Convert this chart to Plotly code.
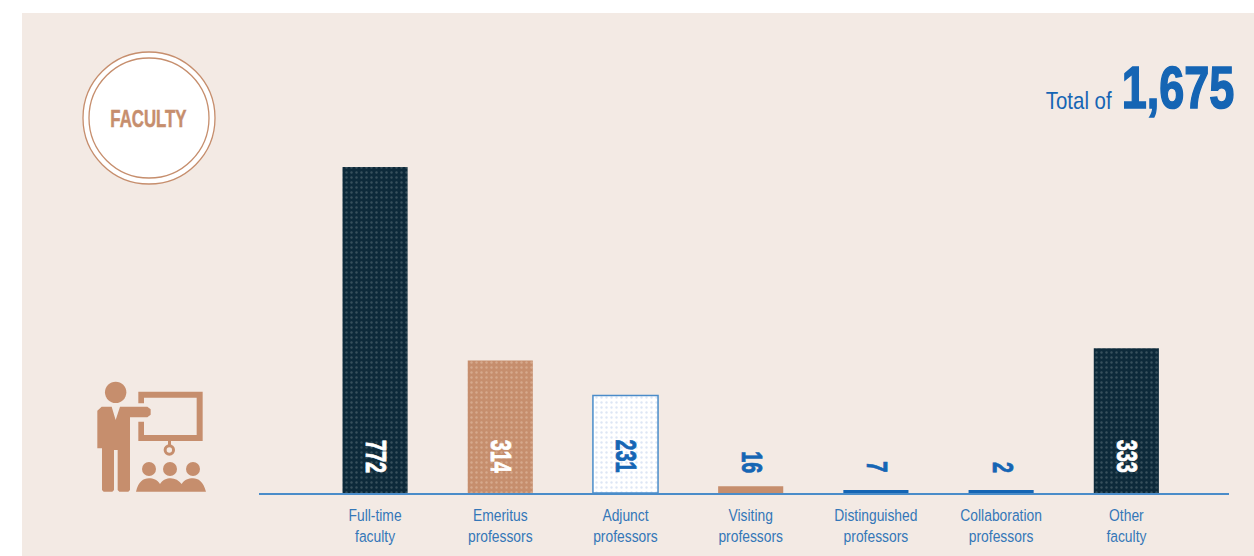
import json
import plotly.graph_objects as go

# Data
categories = ["Full-time<br>faculty", "Emeritus<br>professors", "Adjunct<br>professors",
              "Visiting<br>professors", "Distinguished<br>professors",
              "Collaboration<br>professors", "Other<br>faculty"]
value_labels = ["772", "314", "231", "16", "7", "2", "333"]
# Heights as drawn in the picture, on the same scale as the labels
drawn_heights = [772, 314, 231, 16, 7, 7, 343]
total_label = "1,675"

W, H = 1254, 556
ML, MR, MT, MB = 259, 25, 60, 63
PW, PH = W - ML - MR, H - MT - MB

BLUE = "#1565b4"
AXIS = "#4a8cc9"
TICK = "#3477b8"
BROWN = "#c68e6d"
DARK = "#0d2a3a"
PANEL = "#f3eae4"
FONT = "Liberation Sans, Arial, sans-serif"

bar_fill = [DARK, BROWN, "#ffffff", BROWN, BLUE, BLUE, DARK]
bar_line = [DARK, BROWN, AXIS, BROWN, BLUE, BLUE, DARK]
bar_line_w = [0, 0, 1.5, 0, 0, 0, 0]
bar_dots = ["#62767f", "#e3c4ae", "#bccde9", None, None, None, "#62767f"]
label_col = ["white", "white", BLUE, BLUE, BLUE, BLUE, "white"]


def px(x):
    return (x - ML) / PW


def py(y):
    return (H - MB - y) / PH


def path(cmds):
    """Build an SVG path in paper coordinates from page-pixel commands."""
    out = []
    for c in cmds:
        if isinstance(c, str):
            out.append(c)
        else:
            out.append(f"{px(c[0]):.5f},{py(c[1]):.5f}")
    return " ".join(out)


def z(x, y):
    """Icon coordinates, measured on a 3x crop with origin (70, 360)."""
    return (70 + x / 3, 360 + y / 3)


def circle(cx, cy, r, fill, line=None, lw=0):
    return dict(type="circle", xref="paper", yref="paper", layer="below",
                x0=px(cx - r), x1=px(cx + r), y0=py(cy + r), y1=py(cy - r),
                fillcolor=fill, line=dict(color=line or fill, width=lw))


def poly(cmds, fill=BROWN):
    return dict(type="path", xref="paper", yref="paper", layer="below",
                path=path(cmds), fillcolor=fill, line=dict(width=0))


shapes = [
    dict(type="rect", xref="paper", yref="paper", layer="below",
         x0=px(22), x1=px(1254), y0=py(556), y1=py(13),
         fillcolor=PANEL, line=dict(width=0)),
    circle(149, 118, 66, "white", BROWN, 1.3),
    circle(149, 118, 60, "white", BROWN, 1.3),
    # presenter
    circle(*z(137, 97), 10.7, BROWN),
    poly(["M", z(95, 140), "L", z(125, 140), "L", z(137, 180), "L", z(150, 140),
          "L", z(232, 140), "L", z(242, 148), "L", z(242, 164), "L", z(232, 172),
          "L", z(180, 172), "L", z(180, 390), "L", z(175, 395), "L", z(148, 395),
          "L", z(143, 390), "L", z(143, 270), "L", z(132, 270), "L", z(132, 390),
          "L", z(127, 395), "L", z(101, 395), "L", z(96, 390), "L", z(96, 265),
          "L", z(82, 265), "L", z(82, 152), "Z"]),
    # board
    poly(["M", z(205, 130), "L", z(205, 95), "L", z(398, 95), "L", z(398, 243),
          "L", z(205, 243), "L", z(205, 185), "L", z(222, 185), "L", z(222, 225),
          "L", z(380, 225), "L", z(380, 113), "L", z(222, 113), "L", z(222, 130), "Z"]),
    poly(["M", z(294, 243), "L", z(303, 243), "L", z(303, 258), "L", z(294, 258), "Z"]),
    circle(*z(298, 270), 4.2, "rgba(0,0,0,0)", BROWN, 3),
    # audience
    circle(*z(237, 327), 7, BROWN),
    circle(*z(300, 327), 7, BROWN),
    circle(*z(369, 327), 7, BROWN),
    poly(["M", z(198, 395), "C", z(205, 365), z(220, 355), z(237, 355),
          "C", z(250, 355), z(262, 360), z(270, 372),
          "C", z(278, 360), z(290, 355), z(302, 355),
          "C", z(315, 355), z(327, 362), z(335, 372),
          "C", z(343, 360), z(355, 355), z(369, 355),
          "C", z(385, 355), z(400, 365), z(408, 395), "Z"]),
]

fig = go.Figure()
for cat, h, fill, ln, lw, dots in zip(categories, drawn_heights, bar_fill, bar_line,
                                      bar_line_w, bar_dots):
    marker = dict(color=fill, line=dict(color=ln, width=lw))
    if dots:
        marker["pattern"] = dict(shape=".", fgcolor=dots, size=5, solidity=0.18,
                                 fillmode="overlay")
    fig.add_trace(go.Bar(x=[cat], y=[h], width=0.52, marker=marker,
                         hoverinfo="skip", showlegend=False))

annotations = []
squeeze = []  # horizontal text squeeze for a condensed look: [factor, pivot, stroke]
for cat, lab, col in zip(categories, value_labels, label_col):
    annotations.append(dict(
        x=cat, y=0, xref="x", yref="y", text=f"<b>{lab}</b>", textangle=90,
        showarrow=False, xanchor="center", yanchor="bottom", yshift=18, xshift=2,
        font=dict(family=FONT, size=30, color=col),
    ))
    squeeze.append([0.66, "end", 0.8])

annotations += [
    dict(xref="paper", yref="paper", x=px(148), y=py(119), text="<b>FACULTY</b>",
         showarrow=False, xanchor="center", yanchor="middle",
         font=dict(family=FONT, size=24, color=BROWN)),
    dict(xref="paper", yref="paper", x=px(1079), y=py(100), text="Total of",
         showarrow=False, xanchor="center", yanchor="middle",
         font=dict(family=FONT, size=24, color=BLUE)),
    dict(xref="paper", yref="paper", x=px(1178), y=py(88), text=f"<b>{total_label}</b>",
         showarrow=False, xanchor="center", yanchor="middle",
         font=dict(family=FONT, size=60, color=BLUE)),
]
squeeze += [[0.70, "mid", 0.5], [0.85, "mid", 0], [0.75, "mid", 1.6]]

fig.update_layout(
    width=W, height=H, autosize=False, barmode="overlay",
    margin=dict(l=ML, r=MR, t=MT, b=MB),
    paper_bgcolor="white", plot_bgcolor="rgba(0,0,0,0)",
    shapes=shapes, annotations=annotations,
    xaxis=dict(type="category", categoryorder="array", categoryarray=categories,
               range=[-0.927, 6.82], showgrid=False, zeroline=False,
               showline=True, linecolor=AXIS, linewidth=1.5, ticks="",
               tickfont=dict(family=FONT, size=16.5, color=TICK), ticklabelstandoff=6),
    yaxis=dict(range=[0, PH / 0.4223], visible=False),
)

post = """
document.body.style.margin = '0';
function squeezeText(t, k, pivot) {
  var b = t.getBBox();
  var c = pivot === 'end' ? b.x + b.width : b.x + b.width / 2;
  var old = t.getAttribute('transform') || '';
  t.setAttribute('transform', old + ' translate(' + c + ',0) scale(' + k + ',1) translate(' + (-c) + ',0)');
}
var sq = %s;
document.querySelectorAll('.annotation').forEach(function (a, i) {
  var t = a.querySelector('text');
  squeezeText(t, sq[i][0], sq[i][1]);
  if (sq[i][2] > 0) {
    t.style.stroke = t.style.fill;
    t.style.strokeWidth = sq[i][2] + 'px';
  }
});
document.querySelectorAll('.xtick text').forEach(function (t) { squeezeText(t, 0.84, 'mid'); });
""" % json.dumps(squeeze)

fig.write_html("out.html", post_script=post, config=dict(displayModeBar=False))
